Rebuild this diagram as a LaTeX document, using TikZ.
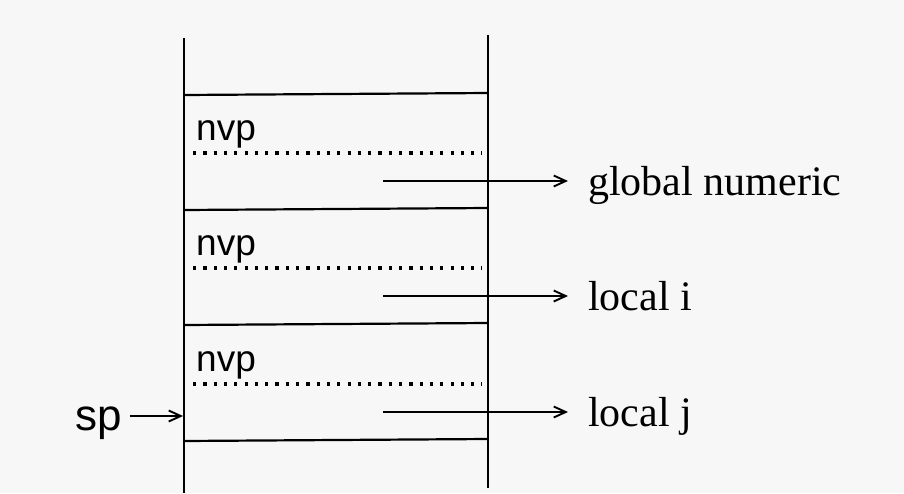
\documentclass[tikz,border=0pt]{standalone}
\usepackage{fontspec}
\setmainfont{Liberation Serif}
\setsansfont{Liberation Sans}
\usetikzlibrary{arrows.meta}
\begin{document}
\begin{tikzpicture}[x=1pt,y=-1pt,
  wall/.style={line width=2.4pt},
  sep/.style={line width=2.2pt},
  dotline/.style={line width=3.4pt,dash pattern=on 3.2pt off 7.1pt},
  arr/.style={line width=1.9pt,-{Straight Barb[length=12pt,width=11pt,line width=1.9pt]}},
  fieldtxt/.style={font=\sffamily\fontsize{37}{42}\selectfont,anchor=base west,inner sep=0pt},
  labtxt/.style={font=\rmfamily\fontsize{42}{46}\selectfont,anchor=base west,inner sep=0pt}]
\fill[white!97!black] (0,0) rectangle (904,493);
\useasboundingbox (0,0) rectangle (904,493);
% walls
\coordinate (lt) at (184,38);  \coordinate (lb) at (184,493);
\coordinate (rt) at (488,35);  \coordinate (rb) at (488,488);
\draw[wall] (lt) -- (lb);
\draw[wall] (rt) -- (rb);
% separators
\foreach \y [count=\i] in {95,210,325,441}{
  \coordinate (sl\i) at (184,\y);
  \coordinate (sr\i) at (488,\y-2);
  \draw[sep] (sl\i) -- (sr\i);
}
% frames
\foreach \y [count=\i] in {0,115,231}{
  \node[fieldtxt] (nvp\i) at (196,140+\y) {nvp};
  \coordinate (dl\i) at (193,153+\y);
  \coordinate (dr\i) at (482,153+\y);
  \draw[dotline] (dl\i) -- (dr\i);
  \coordinate (a\i) at (383,181+\y);
}
\node[labtxt] (g) at (588,195) {global numeric};
\node[labtxt] (li) at (588,310) {local i};
\node[labtxt] (lj) at (588,426) {local j};
\draw[arr] (a1) -- ([xshift=-20pt]a1 -| g.west);
\draw[arr] (a2) -- ([xshift=-20pt]a2 -| li.west);
\draw[arr] (a3) -- ([xshift=-20pt]a3 -| lj.west);
% sp
\node[font=\sffamily\fontsize{44}{48}\selectfont,anchor=base west,inner sep=0pt] (sp) at (75,430) {sp};
\coordinate (spw) at (183,416);
\draw[arr] ([xshift=8pt]sp.east |- spw) -- (spw);
\end{tikzpicture}
\end{document}
